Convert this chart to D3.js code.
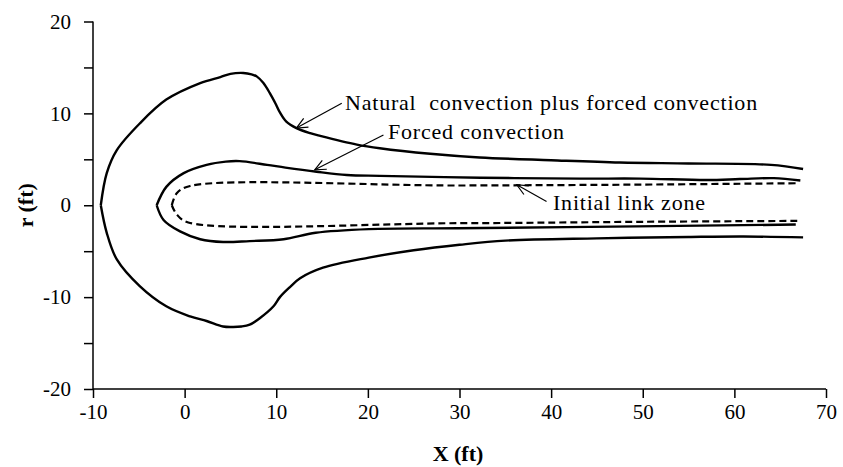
<!DOCTYPE html>
<html><head><meta charset="utf-8">
<script src="https://cdn.jsdelivr.net/npm/d3@7"></script>
<style>body{margin:0;background:#fff}svg{display:block}</style>
</head><body>
<script>
// ---- data (ft) ----
const outerUpper = [[-9.15,0],[-8.5,3.5],[-7.4,6.0],[-4.9,8.9],[-2.0,11.5],[1.7,13.3],[3.9,13.95],[5.0,14.3],[6.4,14.4],[7.3,14.25],[7.9,14.0],[8.6,13.3],[9.3,12.2],[9.9,11.1],[10.4,10.1],[11.1,9.1],[12.2,8.4],[13.7,7.85],[14.8,7.55],[18.8,6.6],[21.3,6.2],[26.8,5.6],[32.2,5.2],[40.0,4.9],[47.5,4.65],[55.0,4.55],[64.0,4.4],[67.5,3.95]];
const outerLower = [[-9.15,0],[-8.5,-3.0],[-7.4,-5.9],[-4.9,-8.8],[-2.0,-11.0],[0.6,-12.1],[2.4,-12.6],[4.2,-13.2],[5.3,-13.25],[6.2,-13.2],[7.1,-13.0],[8.2,-12.3],[9.7,-11.0],[10.4,-10.0],[11.5,-8.9],[12.6,-7.95],[15.1,-6.8],[20.1,-5.7],[25.0,-4.9],[30.0,-4.3],[35.0,-3.85],[45.0,-3.6],[55.0,-3.45],[61.0,-3.4],[67.5,-3.5]];
const forcedUpper = [[-3.05,0],[-2.0,2.0],[-0.1,3.5],[2.4,4.4],[4.5,4.75],[6.0,4.8],[9.0,4.4],[11.0,4.1],[14.4,3.65],[17.7,3.3],[21.3,3.2],[32.3,3.0],[43.2,2.9],[49.7,2.9],[57.0,2.75],[60.6,2.85],[64.3,2.95],[67.2,2.7]];
const forcedLower = [[-3.05,0],[-2.3,-1.6],[-0.5,-2.85],[1.7,-3.7],[4.2,-4.0],[7.1,-3.9],[10.8,-3.7],[14.3,-3.0],[20.1,-2.6],[29.8,-2.5],[49.3,-2.3],[66.7,-2.1]];
const initialUpper = [[-1.4,0],[-0.86,1.3],[0.6,2.1],[30,2.15],[50,2.25],[67,2.4]];
const initialLower = [[-1.4,0],[-0.86,-1.0],[0.4,-1.87],[30,-1.95],[50,-1.8],[67,-1.7]];
const xTicks = [-10,0,10,20,30,40,50,60,70];
const yTicks = [-20,-15,-10,-5,0,5,10,15,20];
const yLabels = [-20,-10,0,10,20];
const labels = ["Natural  convection plus forced convection","Forced convection","Initial link zone"];
const labelAt = [[17.5,10.4],[22.2,7.2],[40.2,-0.5]];
const arrowFrom = [[17.15,11.1],[21.7,7.65],[39.5,0.41]];
const arrowTo = [[12.2,8.4],[14.2,3.86],[36.25,2.23]];

const W=843,H=467;
const svg=d3.select("body").append("svg").attr("width",W).attr("height",H);
const x=d3.scaleLinear().domain([-10,70]).range([93,826]);
const y=d3.scaleLinear().domain([-20,20]).range([389,21.5]);
const font="'Liberation Serif','Times New Roman',serif";

svg.append("defs").append("marker").attr("id","ah").attr("viewBox","-12 -6 14 12")
 .attr("markerWidth",14).attr("markerHeight",12).attr("refX",0).attr("refY",0)
 .attr("orient","auto").attr("markerUnits","userSpaceOnUse")
 .append("path").attr("d","M-11,-5 L0,0 L-11,5").attr("fill","none").attr("stroke","#000").attr("stroke-width",1.2);

// axes
const xa=svg.append("g").attr("transform",`translate(0,${y(-20)})`)
 .call(d3.axisBottom(x).tickValues(xTicks).tickSize(9).tickPadding(6).tickFormat(d=>String(d)));
const ya=svg.append("g").attr("transform",`translate(${x(-10)},0)`)
 .call(d3.axisLeft(y).tickValues(yTicks).tickSize(9).tickPadding(13).tickFormat(d=>yLabels.includes(d)?String(d):""));
[xa,ya].forEach(g=>{
  g.select(".domain").attr("stroke","#000").attr("stroke-width",1.5);
  g.selectAll(".tick line").attr("stroke","#000").attr("stroke-width",1.5);
  g.selectAll(".tick text").attr("font-family",font).attr("font-size",21).attr("fill","#000");
});
ya.select(".domain").attr("d",`M-0,${y(20)}V${y(-20)}`);
xa.select(".domain").attr("d",`M${x(-10)},0H${x(70)}`);

svg.append("text").attr("x",458).attr("y",461).attr("text-anchor","middle")
 .attr("font-family",font).attr("font-weight","bold").attr("font-size",22).text("X (ft)");
svg.append("text").attr("transform",`translate(33,${y(0)}) rotate(-90)`).attr("text-anchor","middle")
 .attr("font-family",font).attr("font-weight","bold").attr("font-size",22).text("r (ft)");

const line=d3.line().x(d=>x(d[0])).y(d=>y(d[1])).curve(d3.curveCatmullRom.alpha(0.5));
[outerUpper,outerLower,forcedUpper,forcedLower].forEach(s=>{
  svg.append("path").attr("d",line(s)).attr("fill","none").attr("stroke","#000").attr("stroke-width",2.4);
});
[initialUpper,initialLower].forEach(s=>{
  svg.append("path").attr("d",line(s)).attr("fill","none").attr("stroke","#000").attr("stroke-width",2.2).attr("stroke-dasharray","7,4");
});

labels.forEach((t,i)=>{
  svg.append("line").attr("x1",x(arrowFrom[i][0])).attr("y1",y(arrowFrom[i][1]))
   .attr("x2",x(arrowTo[i][0])).attr("y2",y(arrowTo[i][1]))
   .attr("stroke","#000").attr("stroke-width",1.2).attr("marker-end","url(#ah)");
  svg.append("text").attr("x",x(labelAt[i][0])).attr("y",y(labelAt[i][1]))
   .attr("font-family",font).attr("font-size",22).attr("letter-spacing",0.8).attr("fill","#000")
   .style("white-space","pre").text(t);
});
</script>
</body></html>
